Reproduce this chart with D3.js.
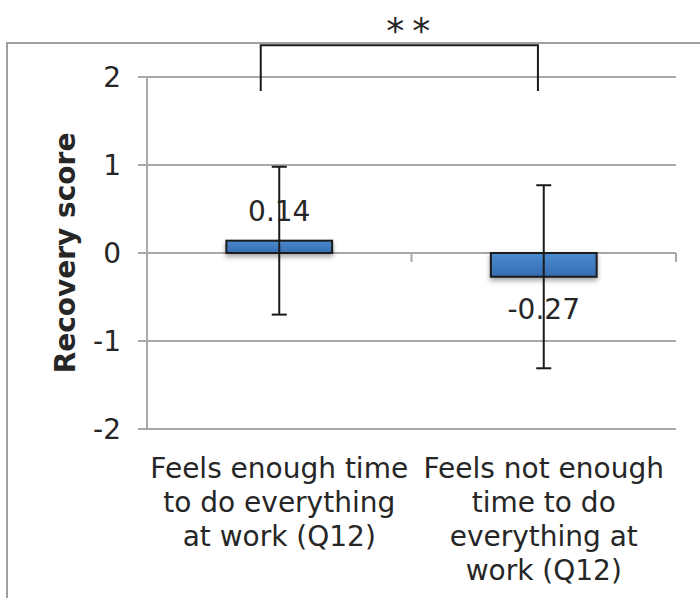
<!DOCTYPE html>
<html>
<head>
    <title>Recovery score</title>
    <script type="text/javascript" src="https://cdn.jsdelivr.net/npm/d3@7"></script>
    <style>
        body { margin: 0; background: #fff; }
        text { font-family: "DejaVu Sans", Verdana, sans-serif; fill: #262626; }
    </style>
</head>
<body>
    <div id="chart"></div>
    <script>
        // data
        var categories = ["enough", "notEnough"];
        var categoryLines = [
            ["Feels enough time", "to do everything", "at work (Q12)"],
            ["Feels not enough", "time to do", "everything at", "work (Q12)"]
        ];
        var means = [0.14, -0.27];
        var errors = [0.84, 1.04];
        var meanLabels = ["0.14", "-0.27"];
        var yTicks = [-2, -1, 0, 1, 2];
        var yTitle = "Recovery score";
        var sigLabel = "**";
        var bracketTop = 2.36, bracketBottom = 1.84;

        var width = 700, height = 598;
        var margin = {top: 77, right: 24, bottom: 169, left: 147};

        var svg = d3.select("#chart").append("svg")
            .attr("width", width)
            .attr("height", height);

        var defs = svg.append("defs");
        var grad = defs.append("linearGradient")
            .attr("id", "barGrad")
            .attr("x1", 0).attr("y1", 0).attr("x2", 0).attr("y2", 1);
        grad.append("stop").attr("offset", "0%").attr("stop-color", "#4a8bd0");
        grad.append("stop").attr("offset", "100%").attr("stop-color", "#356cb0");

        var shadow = defs.append("filter")
            .attr("id", "shadow")
            .attr("x", "-20%").attr("y", "-50%")
            .attr("width", "140%").attr("height", "250%");
        shadow.append("feDropShadow")
            .attr("dx", 0).attr("dy", 3)
            .attr("stdDeviation", 2.5)
            .attr("flood-color", "#000")
            .attr("flood-opacity", 0.35);

        // outer frame (top + left edge)
        svg.append("path")
            .attr("d", "M7," + height + "V43H" + width)
            .attr("fill", "none")
            .attr("stroke", "#a0a0a0")
            .attr("stroke-width", 2);

        var x = d3.scaleBand()
            .domain(categories)
            .range([margin.left, width - margin.right])
            .padding(0);

        var y = d3.scaleLinear()
            .domain([-2, 2])
            .range([429, margin.top]);

        // gridlines with left ticks
        svg.append("g")
            .selectAll("line")
            .data(yTicks)
            .join("line")
            .attr("x1", margin.left - 9)
            .attr("x2", width - margin.right)
            .attr("y1", function(d) { return y(d); })
            .attr("y2", function(d) { return y(d); })
            .attr("stroke", "#a8a8a8")
            .attr("stroke-width", 2);

        // y axis line
        svg.append("line")
            .attr("x1", margin.left).attr("x2", margin.left)
            .attr("y1", y(2)).attr("y2", y(-2))
            .attr("stroke", "#a8a8a8")
            .attr("stroke-width", 2);

        // category ticks on the zero line
        var boundaries = [x.range()[0], x(categories[1]), x.range()[1]];
        svg.append("g")
            .selectAll("line")
            .data(boundaries)
            .join("line")
            .attr("x1", function(d) { return d; })
            .attr("x2", function(d) { return d; })
            .attr("y1", y(0))
            .attr("y2", y(0) + 9)
            .attr("stroke", "#a8a8a8")
            .attr("stroke-width", 2);

        // tick labels
        svg.append("g")
            .selectAll("text")
            .data(yTicks)
            .join("text")
            .attr("x", 121)
            .attr("y", function(d) { return y(d); })
            .attr("dy", "0.36em")
            .attr("text-anchor", "end")
            .style("font-size", "28px")
            .text(function(d) { return d; });

        // y title
        svg.append("text")
            .attr("transform", "translate(75," + y(0) + ") rotate(-90)")
            .attr("text-anchor", "middle")
            .style("font-size", "28px")
            .style("font-weight", "bold")
            .text(yTitle);

        var bw = x.bandwidth() * 0.4;
        function cx(i) { return x(categories[i]) + x.bandwidth() / 2; }

        // bars
        svg.append("g")
            .selectAll("rect")
            .data(means)
            .join("rect")
            .attr("x", function(d, i) { return cx(i) - bw / 2; })
            .attr("y", function(d) { return y(Math.max(0, d)); })
            .attr("width", bw)
            .attr("height", function(d) { return Math.abs(y(d) - y(0)); })
            .attr("fill", "url(#barGrad)")
            .attr("stroke", "#1a1a1a")
            .attr("stroke-width", 2)
            .attr("filter", "url(#shadow)");

        // error bars
        var eg = svg.append("g")
            .attr("stroke", "#1a1a1a")
            .attr("stroke-width", 2);
        means.forEach(function(m, i) {
            var hi = y(m + errors[i]), lo = y(m - errors[i]);
            eg.append("line").attr("x1", cx(i)).attr("x2", cx(i)).attr("y1", hi).attr("y2", lo);
            eg.append("line").attr("x1", cx(i) - 7.5).attr("x2", cx(i) + 7.5).attr("y1", hi).attr("y2", hi);
            eg.append("line").attr("x1", cx(i) - 7.5).attr("x2", cx(i) + 7.5).attr("y1", lo).attr("y2", lo);
        });

        // value labels
        svg.append("g")
            .selectAll("text")
            .data(means)
            .join("text")
            .attr("x", function(d, i) { return cx(i); })
            .attr("y", function(d) { return d >= 0 ? y(d) - 20 : y(d) + 42; })
            .attr("text-anchor", "middle")
            .style("font-size", "28px")
            .text(function(d, i) { return meanLabels[i]; });

        // category labels
        categoryLines.forEach(function(lines, i) {
            var t = svg.append("text")
                .attr("text-anchor", "middle")
                .style("font-size", "28px");
            lines.forEach(function(l, j) {
                t.append("tspan")
                    .attr("x", cx(i))
                    .attr("y", 478 + j * 34)
                    .text(l);
            });
        });

        // significance bracket
        var bx1 = x(categories[0]) + x.bandwidth() * 0.43;
        var bx2 = x(categories[1]) + x.bandwidth() * 0.478;
        svg.append("path")
            .attr("d", "M" + bx1 + "," + y(bracketBottom) + "V" + y(bracketTop) +
                       "H" + bx2 + "V" + y(bracketBottom))
            .attr("fill", "none")
            .attr("stroke", "#1a1a1a")
            .attr("stroke-width", 2);

        svg.append("text")
            .attr("x", (bx1 + bx2) / 2 + 13)
            .attr("y", 43)
            .attr("text-anchor", "middle")
            .style("font-size", "36px")
            .style("letter-spacing", "8px")
            .text(sigLabel);
    </script>
</body>
</html>
